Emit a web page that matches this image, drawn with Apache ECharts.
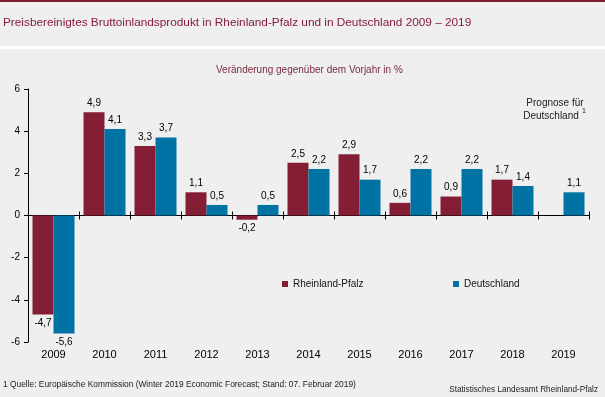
<!DOCTYPE html>
<html>
<head>
<meta charset="utf-8">
<script src="https://cdn.jsdelivr.net/npm/echarts@6/dist/echarts.min.js"></script>
<style>
html,body{margin:0;padding:0;background:#eeefee;}
#c{width:605px;height:397px;}
</style>
</head>
<body>
<div id="c"></div>
<script>
const categories = ['2009','2010','2011','2012','2013','2014','2015','2016','2017','2018','2019'];
const rheinlandPfalz = [-4.7, 4.9, 3.3, 1.1, -0.2, 2.5, 2.9, 0.6, 0.9, 1.7, null];
const deutschland = [-5.6, 4.1, 3.7, 0.5, 0.5, 2.2, 1.7, 2.2, 2.2, 1.4, 1.1];
const yTicks = [-6, -4, -2, 0, 2, 4, 6];

const FONT = '"Liberation Sans", Arial, sans-serif';
const RED = '#841e35';
const BLUE = '#0072a3';

function toData(arr) {
  return arr.map(v => {
    if (v === null) return '-';
    return {
      value: v,
      label: { position: v < 0 ? 'bottom' : 'top' }
    };
  });
}
function fmt(p) { return String(p.value).replace('.', ','); }

const chart = echarts.init(document.getElementById('c'), null, { renderer: 'canvas' });
chart.setOption({
  backgroundColor: '#eeefee',
  animation: false,
  textStyle: { fontFamily: FONT },
  graphic: [
    { type: 'rect', shape: { x: 0, y: 0, width: 605, height: 2 }, style: { fill: '#7f1d33' } },
    { type: 'rect', shape: { x: 0, y: 46, width: 605, height: 3 }, style: { fill: '#ffffff' } },
    { type: 'text', left: 3, top: 17, style: { text: 'Preisbereinigtes Bruttoinlandsprodukt in Rheinland-Pfalz und in Deutschland 2009 – 2019', fill: '#861c3a', font: '11.8px ' + FONT } },
    { type: 'text', left: 216, top: 65, style: { text: 'Veränderung gegenüber dem Vorjahr in %', fill: '#7a2a3e', font: '10px ' + FONT } },
    { type: 'text', x: 555, y: 98, style: { text: 'Prognose für', fill: '#222', font: '10px ' + FONT, align: 'center' } },
    { type: 'text', x: 551, y: 111, style: { text: 'Deutschland', fill: '#222', font: '10px ' + FONT, align: 'center' } },
    { type: 'text', x: 582, y: 108, style: { text: '1', fill: '#222', font: '7px ' + FONT, align: 'left' } },
    { type: 'text', left: 3, top: 381, style: { text: '1 Quelle: Europäische Kommission (Winter 2019 Economic Forecast; Stand: 07. Februar 2019)', fill: '#222', font: '8.4px ' + FONT } },
    { type: 'text', right: 7, top: 386, style: { text: 'Statistisches Landesamt Rheinland-Pfalz', fill: '#222', font: '8.2px ' + FONT } }
  ],
  legend: [
    { data: ['Rheinland-Pfalz'], left: 277, top: 274, icon: 'rect', itemWidth: 6, itemHeight: 6, itemGap: 5, textStyle: { fontSize: 10, color: '#111', fontFamily: FONT } },
    { data: ['Deutschland'], left: 448, top: 274, icon: 'rect', itemWidth: 6, itemHeight: 6, itemGap: 5, textStyle: { fontSize: 10, color: '#111', fontFamily: FONT } }
  ],
  grid: { left: 28, right: 16, top: 89, bottom: 55 },
  xAxis: [
    { type: 'category', data: categories, position: 'bottom',
      axisLine: { show: false, onZero: false }, axisTick: { show: false },
      axisLabel: { color: '#000', fontSize: 11, margin: 7, fontFamily: FONT } },
    { type: 'category', data: categories, position: 'bottom',
      axisLine: { show: true, onZero: true, onZeroAxisIndex: 0, lineStyle: { color: '#000', width: 1 } },
      axisTick: { show: true, inside: true, length: 4, lineStyle: { color: '#000' } },
      axisLabel: { show: false } },
    { type: 'category', data: categories, position: 'top',
      axisLine: { show: true, onZero: true, onZeroAxisIndex: 1, lineStyle: { color: '#000', width: 1 } },
      axisTick: { show: true, inside: true, length: 4, lineStyle: { color: '#000' } },
      axisLabel: { show: false } }
  ],
  yAxis: [
    { type: 'value', min: yTicks[0], max: yTicks[yTicks.length - 1], interval: 2,
      axisLine: { show: true, onZero: false, lineStyle: { color: '#000' } },
      axisTick: { show: true, length: 4, lineStyle: { color: '#000' } },
      splitLine: { show: false },
      axisLabel: { color: '#000', fontSize: 10, margin: 8, fontFamily: FONT } },
    { type: 'value', min: yTicks[0], max: yTicks[yTicks.length - 1], interval: 2, position: 'right',
      axisLine: { show: false, onZero: false }, axisTick: { show: false }, splitLine: { show: false }, axisLabel: { show: false } }
  ],
  series: [
    { name: 'Rheinland-Pfalz', type: 'bar', xAxisIndex: 0, yAxisIndex: 0, data: toData(rheinlandPfalz),
      barWidth: 21, barGap: '0%', itemStyle: { color: RED },
      label: { show: true, distance: 4, color: '#000', fontSize: 10, fontFamily: FONT, formatter: fmt } },
    { name: 'Deutschland', type: 'bar', xAxisIndex: 0, yAxisIndex: 0, data: toData(deutschland),
      barWidth: 21, barGap: '0%', itemStyle: { color: BLUE },
      label: { show: true, distance: 4, color: '#000', fontSize: 10, fontFamily: FONT, formatter: fmt } }
  ]
});
</script>
</body>
</html>
